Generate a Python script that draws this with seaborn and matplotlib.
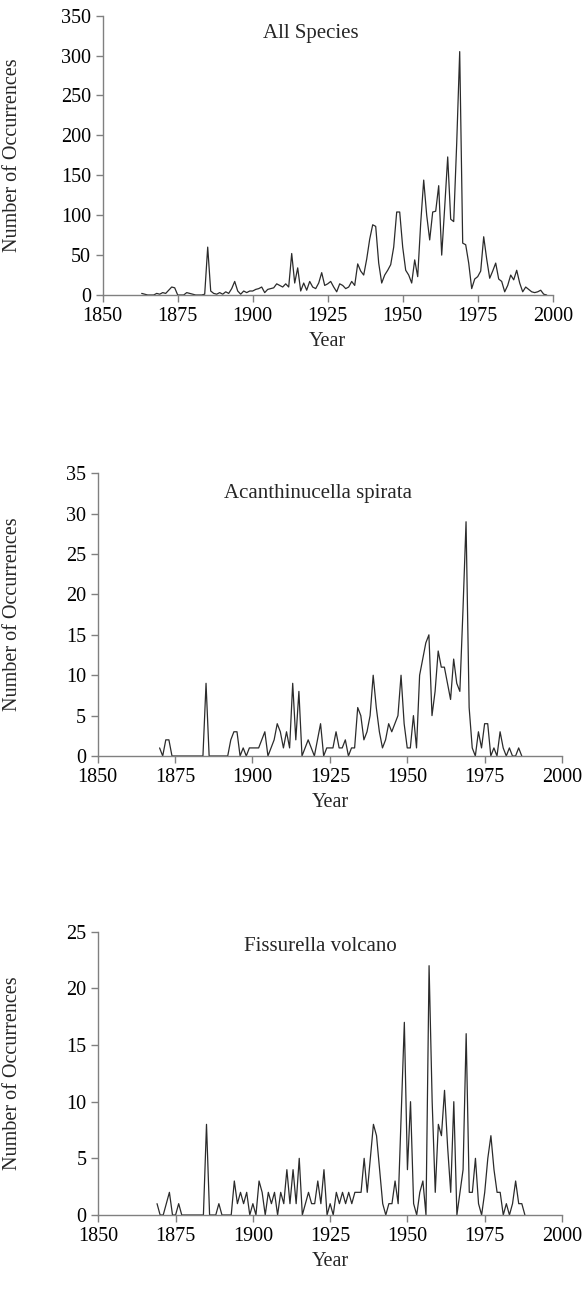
import numpy as np
import pandas as pd
import matplotlib
matplotlib.use("Agg")
import matplotlib.pyplot as plt
import seaborn as sns

# data, yearly counts
all_start = 1863
all_species = [2, 1, 0, 0, 0, 2, 1, 3, 2, 6,          # 1863-1872
               10, 9, 0, 0, 0, 3, 2, 1, 0, 0,         # 1873-1882
               0, 1, 60, 5, 2, 1, 3, 1, 4, 2,         # 1883-1892
               8, 17, 5, 1, 5, 3, 5, 5, 7, 8,         # 1893-1902
               10, 3, 7, 8, 9, 14, 12, 10, 14, 10,    # 1903-1912
               52, 15, 34, 5, 15, 6, 17, 10, 8, 15,   # 1913-1922
               28, 12, 14, 17, 10, 4, 14, 12, 8, 10,  # 1923-1932
               17, 12, 39, 30, 25, 45, 70, 88, 86, 40,  # 1933-1942
               15, 25, 31, 38, 60, 104, 104, 60, 31, 25,  # 1943-1952
               15, 44, 23, 90, 144, 100, 69, 104, 105, 137,  # 1953-1962
               50, 110, 173, 95, 92, 190, 305, 65, 63, 40,  # 1963-1972
               8, 20, 23, 30, 73, 45, 21, 30, 40, 20,  # 1973-1982
               17, 4, 12, 25, 19, 31, 15, 4, 10, 7,    # 1983-1992
               4, 3, 4, 6, 1, 0]                       # 1993-1998

acan_start = 1870
acanthinucella = [1, 0, 2, 2, 0, 0, 0, 0, 0, 0,       # 1870-1879
                  0, 0, 0, 0, 0, 9, 0, 0, 0, 0,       # 1880-1889
                  0, 0, 0, 2, 3, 3, 0, 1, 0, 1,       # 1890-1899
                  1, 1, 1, 2, 3, 0, 1, 2, 4, 3,       # 1900-1909
                  1, 3, 1, 9, 2, 8, 0, 1, 2, 1,       # 1910-1919
                  0, 2, 4, 0, 1, 1, 1, 3, 1, 1,       # 1920-1929
                  2, 0, 1, 1, 6, 5, 2, 3, 5, 10,      # 1930-1939
                  6, 3, 1, 2, 4, 3, 4, 5, 10, 4,      # 1940-1949
                  1, 1, 5, 1, 10, 12, 14, 15, 5, 8,   # 1950-1959
                  13, 11, 11, 9, 7, 12, 9, 8, 18, 29,  # 1960-1969
                  6, 1, 0, 3, 1, 4, 4, 0, 1, 0,       # 1970-1979
                  3, 1, 0, 1, 0, 0, 1, 0]             # 1980-1987

fiss_start = 1869
fissurella = [1, 0, 0, 1, 2, 0, 0, 1, 0, 0,           # 1869-1878
              0, 0, 0, 0, 0, 0, 8, 0, 0, 0,           # 1879-1888
              1, 0, 0, 0, 0, 3, 1, 2, 1, 2,           # 1889-1898
              0, 1, 0, 3, 2, 0, 2, 1, 2, 0,           # 1899-1908
              2, 1, 4, 1, 4, 1, 5, 0, 1, 2,           # 1909-1918
              1, 1, 3, 1, 4, 0, 1, 0, 2, 1,           # 1919-1928
              2, 1, 2, 1, 2, 2, 2, 5, 2, 5,           # 1929-1938
              8, 7, 4, 1, 0, 1, 1, 3, 1, 9,           # 1939-1948
              17, 4, 10, 1, 0, 2, 3, 0, 22, 10,       # 1949-1958
              2, 8, 7, 11, 6, 2, 10, 0, 2, 4,         # 1959-1968
              16, 2, 2, 5, 1, 0, 2, 5, 7, 4,          # 1969-1978
              2, 2, 0, 1, 0, 1, 3, 1, 1, 0]           # 1979-1988

titles = ["All Species", "Acanthinucella spirata", "Fissurella volcano"]
y_limits = [350, 35, 25]
y_steps = [50, 5, 5]
x_ticks = [1850, 1875, 1900, 1925, 1950, 1975, 2000]

sns.set_style("ticks")
plt.rcParams["font.family"] = ["Liberation Serif", "DejaVu Serif"]

fig = plt.figure(figsize=(5.87, 13.04), dpi=100)
W, H = 587, 1304
# axes boxes in pixels: left, right, top, bottom
boxes = [(102.7, 552.7, 15.7, 295), (97.7, 562, 473.3, 756), (98.3, 562, 931.7, 1215)]
title_pos = [(0.463, 0.938), (0.474, 0.929), (0.478, 0.947)]

series = [(all_start, all_species), (acan_start, acanthinucella), (fiss_start, fissurella)]

for i in range(3):
    l, r, t, b = boxes[i]
    ax = fig.add_axes([l / W, 1 - b / H, (r - l) / W, (b - t) / H])
    start, vals = series[i]
    df = pd.DataFrame({"Year": np.arange(start, start + len(vals)), "Count": vals})
    sns.lineplot(data=df, x="Year", y="Count", ax=ax, color="#2b2b2b", linewidth=0.9)

    ax.set_xlim(1850, 2000)
    ax.set_ylim(0, y_limits[i])
    ax.set_xticks(x_ticks)
    ax.set_yticks(np.arange(0, y_limits[i] + 1, y_steps[i]))
    ax.tick_params(axis="both", labelsize=14.5, colors="#808080", labelcolor="black",
                   length=5, width=1, direction="out")
    sns.despine(ax=ax)
    for s in ["left", "bottom"]:
        ax.spines[s].set_color("#808080")
        ax.spines[s].set_linewidth(1)

    ax.set_xlabel("Year", fontsize=14.5)
    ax.set_ylabel("Number of Occurrences", fontsize=14.5)
    ax.xaxis.set_label_coords(0.5, -37 / (b - t))
    ax.yaxis.set_label_coords((22 - l) / (r - l), 0.5)

    ax.text(title_pos[i][0], title_pos[i][1], titles[i], transform=ax.transAxes,
            ha="center", va="center", fontsize=15)

fig.savefig("out.png", dpi=100)
